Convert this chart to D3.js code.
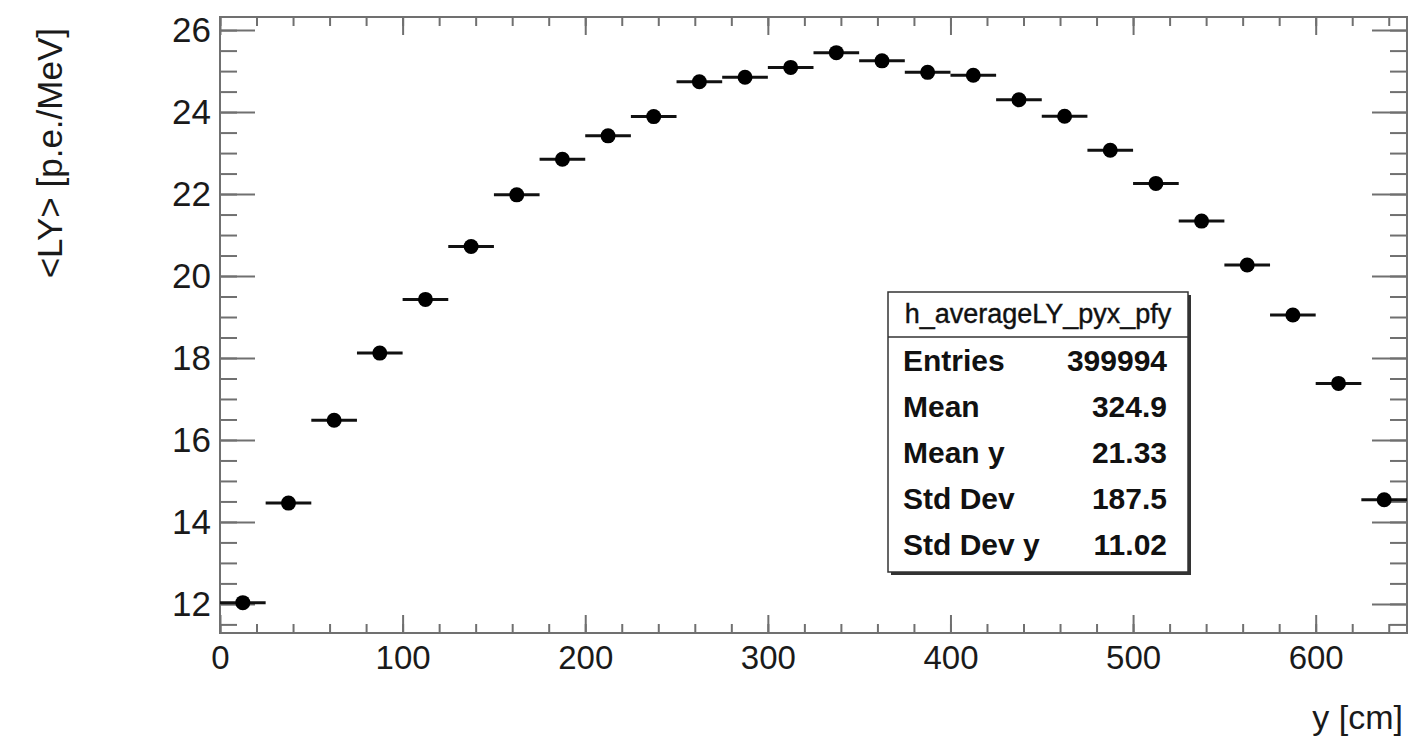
<!DOCTYPE html>
<html>
<head>
<meta charset="utf-8">
<script src="https://cdn.jsdelivr.net/npm/d3@7"></script>
<style>
    body { margin: 0; background: #fff; }
    svg { display: block; font-family: "Liberation Sans", Arial, sans-serif; }
    .tick text { fill: #1a1a1a; }
</style>
</head>
<body>
<svg id="chart" width="1408" height="744"></svg>
<script>
// bin centres of the profile (y, cm) and the mean light yield in each bin
const binCenters = [12.5, 37.5, 62.5, 87.5, 112.5, 137.5, 162.5, 187.5, 212.5, 237.5, 262.5, 287.5, 312.5,
                    337.5, 362.5, 387.5, 412.5, 437.5, 462.5, 487.5, 512.5, 537.5, 562.5, 587.5, 612.5, 637.5];
const meanLY = [12.03, 14.46, 16.48, 18.12, 19.43, 20.72, 21.98, 22.85, 23.42, 23.89, 24.74, 24.85, 25.09,
                25.45, 25.25, 24.97, 24.90, 24.30, 23.90, 23.07, 22.26, 21.34, 20.27, 19.05, 17.38, 14.54];
const binWidth = 25;

const xTicks = [0, 100, 200, 300, 400, 500, 600];
const yTicks = [12, 14, 16, 18, 20, 22, 24, 26];

const statTitle = "h_averageLY_pyx_pfy";
const statLabels = ["Entries", "Mean", "Mean y", "Std Dev", "Std Dev y"];
const statValues = ["399994", "324.9", "21.33", "187.5", "11.02"];

const frame = {left: 220, right: 1407, top: 17, bottom: 633};
const axisColor = "#707070";

const svg = d3.select("#chart");

const x = d3.scaleLinear().domain([0, 650]).range([frame.left, frame.right]);
const y = d3.scaleLinear().domain([11.29, 26.32]).range([frame.bottom, frame.top]);

function styleAxis(g, size){
    g.select(".domain").remove();
    g.selectAll("line").attr("stroke", axisColor).attr("stroke-width", 2);
    g.selectAll("text").attr("font-size", size || 33);
}

// minor ticks first, majors drawn over them
svg.append("g")
    .attr("transform", `translate(0,${frame.bottom})`)
    .call(d3.axisBottom(x).tickValues(d3.range(0, 651, 20)).tickSize(-9).tickFormat(""))
    .call(styleAxis);
svg.append("g")
    .attr("transform", `translate(0,${frame.top})`)
    .call(d3.axisTop(x).tickValues(d3.range(0, 651, 20)).tickSize(-9).tickFormat(""))
    .call(styleAxis);
svg.append("g")
    .attr("transform", `translate(${frame.left},0)`)
    .call(d3.axisLeft(y).tickValues(d3.range(11.5, 26.01, 0.5)).tickSize(-17).tickFormat(""))
    .call(styleAxis);
svg.append("g")
    .attr("transform", `translate(${frame.right},0)`)
    .call(d3.axisRight(y).tickValues(d3.range(11.5, 26.01, 0.5)).tickSize(-17).tickFormat(""))
    .call(styleAxis);

svg.append("g")
    .attr("transform", `translate(0,${frame.bottom})`)
    .call(d3.axisBottom(x).tickValues(xTicks).tickSize(-18).tickPadding(13).tickFormat(d3.format("d")))
    .call(styleAxis, 33);
svg.append("g")
    .attr("transform", `translate(0,${frame.top})`)
    .call(d3.axisTop(x).tickValues(xTicks).tickSize(-18).tickFormat(""))
    .call(styleAxis);
svg.append("g")
    .attr("transform", `translate(${frame.left},0)`)
    .call(d3.axisLeft(y).tickValues(yTicks).tickSize(-35).tickPadding(9).tickFormat(d3.format("d")))
    .call(styleAxis, 35);
svg.append("g")
    .attr("transform", `translate(${frame.right},0)`)
    .call(d3.axisRight(y).tickValues(yTicks).tickSize(-35).tickFormat(""))
    .call(styleAxis);

svg.append("rect")
    .attr("x", frame.left)
    .attr("y", frame.top)
    .attr("width", frame.right - frame.left)
    .attr("height", frame.bottom - frame.top)
    .attr("fill", "none")
    .attr("stroke", axisColor)
    .attr("stroke-width", 2);

// axis titles
svg.append("text")
    .attr("x", 1403)
    .attr("y", 729)
    .attr("text-anchor", "end")
    .attr("font-size", 34)
    .attr("fill", "#1a1a1a")
    .text("y [cm]");

svg.append("text")
    .attr("transform", "translate(62,28) rotate(-90)")
    .attr("text-anchor", "end")
    .attr("font-size", 35)
    .attr("fill", "#1a1a1a")
    .text("<LY> [p.e./MeV]");

// profile points with bin-width error bars
const points = svg.append("g")
    .selectAll("g")
    .data(binCenters.map((c, i) => ({c: c, v: meanLY[i]})))
    .enter()
    .append("g");

points.append("line")
    .attr("x1", d => x(d.c - binWidth / 2))
    .attr("x2", d => x(d.c + binWidth / 2))
    .attr("y1", d => y(d.v))
    .attr("y2", d => y(d.v))
    .attr("stroke", "#111")
    .attr("stroke-width", 3);

points.append("circle")
    .attr("cx", d => x(d.c))
    .attr("cy", d => y(d.v))
    .attr("r", 7.5)
    .attr("fill", "#000");

// stats box
const box = {x: 888, y: 292, w: 300, h: 280};
const stats = svg.append("g");

stats.append("rect")
    .attr("x", box.x + 3)
    .attr("y", box.y + 3)
    .attr("width", box.w)
    .attr("height", box.h)
    .attr("fill", "#333");

stats.append("rect")
    .attr("x", box.x)
    .attr("y", box.y)
    .attr("width", box.w)
    .attr("height", box.h)
    .attr("fill", "#fff")
    .attr("stroke", "#333")
    .attr("stroke-width", 1.5);

stats.append("line")
    .attr("x1", box.x)
    .attr("x2", box.x + box.w)
    .attr("y1", 337)
    .attr("y2", 337)
    .attr("stroke", "#333")
    .attr("stroke-width", 1.5);

stats.append("text")
    .attr("x", box.x + box.w / 2)
    .attr("y", 323)
    .attr("text-anchor", "middle")
    .attr("font-size", 27)
    .attr("fill", "#111")
    .attr("stroke", "#111")
    .attr("stroke-width", 0.4)
    .text(statTitle);

statLabels.forEach((label, i) => {
    const rowY = 371 + i * 46;
    stats.append("text")
        .attr("x", 903)
        .attr("y", rowY)
        .attr("font-size", 30)
        .attr("font-weight", "bold")
        .attr("fill", "#111")
        .text(label);
    stats.append("text")
        .attr("x", 1167)
        .attr("y", rowY)
        .attr("text-anchor", "end")
        .attr("font-size", 30)
        .attr("font-weight", "bold")
        .attr("fill", "#111")
        .text(statValues[i]);
});
</script>
</body>
</html>
